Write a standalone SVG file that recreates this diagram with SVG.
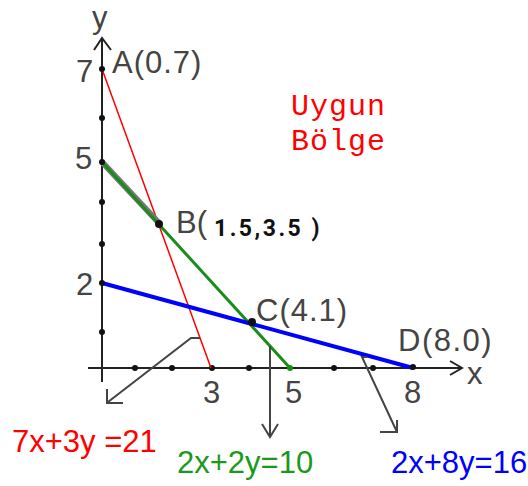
<svg xmlns="http://www.w3.org/2000/svg" width="528" height="486" viewBox="0 0 528 486">
<style>
.lbl{font-family:"Liberation Sans",Arial,sans-serif;font-size:31px;fill:#444}
.eq{font-family:"Liberation Sans",Arial,sans-serif;font-size:31px}
.bold{font-family:Roboto,"Open Sans","DejaVu Sans",sans-serif;font-size:23px;font-weight:700;fill:#111}
.mono{font-family:"Liberation Mono","Courier New",monospace;font-size:30px;fill:#ff0000}
.axis{stroke:#222;stroke-width:2;fill:none}
.arr{stroke:#444;stroke-width:2;fill:none}
.dot{fill:#111}
</style>
<rect width="528" height="486" fill="#fff"/>
<g id="axes">
<line class="axis" x1="102" y1="38" x2="102" y2="382"/>
<polyline class="axis" points="94,50 102,38 111,50"/>
<line class="axis" x1="88" y1="368" x2="462" y2="368"/>
<polyline class="axis" points="450,361 462,368 450,375"/>
<text class="lbl" x="92" y="28">y</text>
<text class="lbl" x="467" y="384">x</text>
<text class="lbl" x="76" y="82">7</text>
<text class="lbl" x="75" y="169">5</text>
<text class="lbl" x="76" y="295">2</text>
<text class="lbl" x="203" y="403">3</text>
<text class="lbl" x="285" y="403">5</text>
<text class="lbl" x="404" y="403">8</text>
<g class="dot">
<circle cx="102" cy="118" r="3"/><circle cx="102" cy="202" r="3"/><circle cx="102" cy="244" r="3"/><circle cx="102" cy="332" r="3"/>
<circle cx="135" cy="368" r="3"/><circle cx="172" cy="368" r="3"/><circle cx="212" cy="368" r="3"/><circle cx="249" cy="368" r="3"/><circle cx="334" cy="368" r="3"/><circle cx="373" cy="368" r="3"/>
</g>
</g>
<g id="lines">
<line x1="102" y1="69" x2="211" y2="368" stroke="#ff0000" stroke-width="1.5"/>
<line x1="102" y1="162" x2="159" y2="223" stroke="#777" stroke-width="6"/>
<line x1="102" y1="162" x2="290" y2="368" stroke="#1a8c1a" stroke-width="3"/>
<line x1="102" y1="283" x2="413" y2="368" stroke="#0000ff" stroke-width="4"/>
<circle cx="290" cy="368" r="3" fill="#1a8c1a"/>
</g>
<g id="A"><circle class="dot" cx="102" cy="69" r="3"/><text class="lbl" x="112" y="73" letter-spacing="1">A(0.7)</text></g>
<g id="P5"><circle class="dot" cx="102" cy="162" r="3"/></g>
<g id="P2"><circle class="dot" cx="102" cy="283" r="3"/></g>
<g id="B"><circle class="dot" cx="159" cy="224" r="4"/><text class="lbl" x="176" y="233">B(</text><text class="bold" x="214" y="236" letter-spacing="2.5">1.5,3.5 )</text></g>
<g id="C"><circle class="dot" cx="252" cy="322" r="4"/><text class="lbl" x="256" y="321" letter-spacing="1">C(4.1)</text></g>
<g id="D"><circle class="dot" cx="413" cy="367" r="3"/><text class="lbl" x="398" y="351" font-size="30" letter-spacing="1.5">D(8.0)</text></g>
<g id="region"><text class="mono" letter-spacing="1"><tspan x="291" y="115">Uygun</tspan><tspan x="291" y="150">Bölge</tspan></text></g>
<g id="connectors">
<polyline class="arr" points="200,338 191,338 108,402"/>
<polyline class="arr" points="107,389 107,403 123,403"/>
<line class="arr" x1="270" y1="346" x2="270" y2="437"/>
<polyline class="arr" points="262,424 270,437 278,424"/>
<polyline class="arr" points="367,357 362,357 397,432"/>
<polyline class="arr" points="380,432 397,432 397,420"/>
</g>
<g id="equations">
<text class="eq" x="12" y="452" fill="#ff0000">7x+3y =21</text>
<text class="eq" x="177" y="473" fill="#1a9a1a">2x+2y=10</text>
<text class="eq" x="391" y="473" fill="#0000ff">2x+8y=16</text>
</g>
</svg>
